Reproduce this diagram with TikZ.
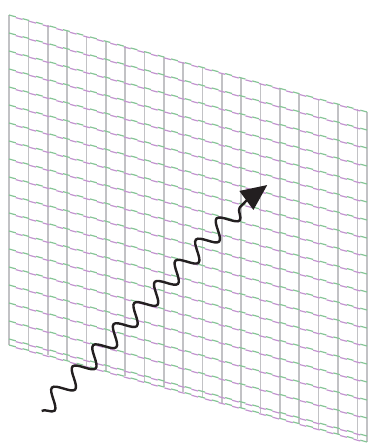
\documentclass[tikz,border=0pt]{standalone}
\usepackage{tikz}
\usetikzlibrary{arrows.meta,decorations.pathmorphing}
\definecolor{gridgreen}{HTML}{86C596}
\definecolor{gridpurple}{HTML}{C394D0}
\definecolor{gridgray}{HTML}{C2C2C5}
\definecolor{waveblack}{HTML}{231F20}

\begin{document}
\begin{tikzpicture}[
    x=1pt,y=-1pt,
    vline/.style={gridgray,line width=1.6pt},
    hgreen/.style={gridgreen,line width=1.2pt,dash pattern=on 7pt off 7pt},
    hpurple/.style={gridpurple,line width=1.2pt,dash pattern=on 7pt off 7pt,dash phase=7pt},
    wave/.style={waveblack,line width=2.4pt,decorate,
      decoration={snake,mirror,amplitude=9pt,segment length=29.5pt}},
    wavetip/.style={waveblack,line width=2.4pt,-{Triangle[length=26pt,width=23pt]}}
  ]
  \useasboundingbox (0,0) rectangle (369,444);
  \foreach \k in {0,...,18}{
    \draw[vline] ({9+19.35*\k},{15+0.271*19.35*\k}) -- ({9+19.35*\k},{345+0.271*19.35*\k});
  }
  \draw[vline] (367,112) -- (367,442);
  \foreach \j in {0,...,18}{
    \draw[hgreen] (9,{15+18*\j}) -- (367,{112+18*\j});
    \draw[hpurple] (9,{15.8+18*\j}) -- (367,{112.8+18*\j});
  }
  \draw[hgreen] (9,345) -- (367,442);
  \draw[hpurple] (9,345.8) -- (367,442.8);

  \coordinate (wstart) at (41.7,411);
  \coordinate (wend) at (247,200);
  \coordinate (wtip) at (267.3,185);
  \draw[wave] (wstart) -- (wend);
  \draw[wavetip] (wend) -- (wtip);
\end{tikzpicture}
\end{document}
